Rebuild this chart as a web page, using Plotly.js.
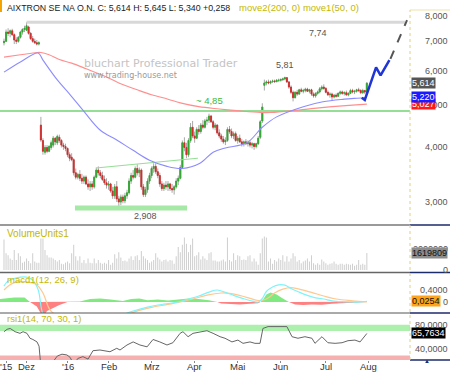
<!DOCTYPE html>
<html><head><meta charset="utf-8">
<script src="https://cdn.plot.ly/plotly-3.0.1.min.js"></script>
<style>html,body{margin:0;padding:0;background:#fff;}#chart{width:450px;height:372px;}</style>
</head><body><div id="chart"></div>
<script>
// ---------- DATA ----------
const tickIdx  = [1, 11, 31, 51, 72, 93, 114, 135, 157, 178];
const tickText = ["'15", "Dez", "'16", "Feb", "Mrz", "Apr", "Mai", "Jun", "Jul", "Aug"];

const opens = [6.95,7.00,7.35,7.30,7.40,7.25,7.05,7.00,7.15,7.35,7.45,7.42,7.55,7.30,7.10,7.00,6.95,6.90,
4.50,4.15,3.90,4.00,3.92,4.00,4.05,4.20,4.10,4.22,4.15,4.05,4.02,3.98,3.85,3.80,3.75,3.50,
3.42,3.47,3.40,3.35,3.42,3.30,3.25,3.30,3.25,3.42,3.55,3.50,3.45,3.38,3.32,3.28,3.30,3.18,3.10,3.25,3.05,3.00,3.08,3.02,
3.10,3.15,3.35,3.45,3.42,3.58,3.50,3.55,3.25,3.12,3.20,3.35,3.45,3.58,3.62,3.52,3.45,3.30,3.22,3.28,
3.25,3.30,3.22,3.20,3.25,3.35,3.40,3.60,4.10,4.00,3.85,4.15,4.45,4.25,4.20,4.40,4.35,4.50,4.45,4.60,
4.62,4.72,4.58,4.45,4.50,4.32,4.25,4.18,4.12,4.15,4.40,4.35,4.25,4.30,4.15,4.20,4.12,4.08,4.12,4.08,
4.10,4.05,4.08,4.02,4.08,4.22,4.60,5.55,5.62,5.65,5.62,5.66,5.68,5.66,5.70,5.70,5.72,5.74,5.78,5.65,
5.50,5.35,5.20,5.35,5.30,5.42,5.38,5.40,5.44,5.38,5.42,5.30,5.25,5.32,5.36,5.45,5.50,5.46,5.35,5.28,
5.30,5.22,5.27,5.24,5.32,5.36,5.32,5.34,5.28,5.32,5.40,5.36,5.38,5.42,5.40,5.34,5.40,5.356];
const highs = [7.10,7.45,7.50,7.45,7.48,7.30,7.15,7.20,7.40,7.50,7.60,7.74,7.60,7.35,7.20,7.10,7.05,7.00,
4.70,4.20,4.05,4.05,4.05,4.15,4.25,4.22,4.28,4.28,4.18,4.10,4.08,4.00,3.90,3.88,3.78,3.58,
3.50,3.55,3.48,3.45,3.45,3.38,3.35,3.35,3.45,3.60,3.62,3.55,3.52,3.45,3.40,3.35,3.32,3.25,3.30,3.35,3.10,3.12,3.12,3.15,
3.20,3.40,3.50,3.55,3.62,3.66,3.60,3.58,3.30,3.25,3.40,3.50,3.62,3.68,3.68,3.58,3.50,3.35,3.32,3.35,
3.35,3.32,3.30,3.28,3.40,3.45,3.65,4.15,4.22,4.10,4.20,4.55,4.60,4.35,4.45,4.50,4.55,4.62,4.65,4.70,
4.78,4.75,4.62,4.55,4.52,4.40,4.30,4.25,4.22,4.45,4.48,4.42,4.35,4.35,4.25,4.28,4.18,4.15,4.18,4.15,
4.15,4.12,4.10,4.10,4.25,4.62,5.05,5.72,5.70,5.72,5.70,5.72,5.72,5.74,5.75,5.76,5.78,5.81,5.80,5.68,
5.55,5.40,5.38,5.42,5.45,5.48,5.45,5.48,5.48,5.45,5.45,5.35,5.35,5.40,5.50,5.55,5.58,5.50,5.40,5.35,
5.34,5.30,5.32,5.35,5.40,5.40,5.38,5.40,5.35,5.45,5.45,5.42,5.45,5.48,5.44,5.45,5.42,5.645];
const lows = [6.85,6.98,7.20,7.15,7.20,6.90,6.90,6.95,7.10,7.25,7.35,7.40,7.25,7.05,6.95,6.90,6.85,6.85,
4.12,3.85,3.85,3.88,3.90,3.95,4.00,4.05,4.05,4.10,4.00,3.95,3.92,3.80,3.72,3.72,3.45,3.38,
3.38,3.35,3.30,3.30,3.28,3.20,3.18,3.20,3.22,3.40,3.45,3.40,3.35,3.28,3.22,3.20,3.15,3.05,3.05,3.00,2.908,2.95,2.98,2.98,
3.05,3.12,3.30,3.38,3.40,3.45,3.42,3.20,3.08,3.08,3.15,3.30,3.40,3.50,3.48,3.40,3.25,3.18,3.18,3.20,
3.18,3.18,3.15,3.12,3.22,3.28,3.38,3.58,3.92,3.78,3.80,4.10,4.20,4.10,4.18,4.28,4.30,4.40,4.42,4.50,
4.55,4.55,4.40,4.38,4.28,4.20,4.12,4.08,4.05,4.12,4.30,4.20,4.18,4.12,4.08,4.10,4.02,4.02,4.05,4.02,
4.00,3.98,3.95,3.98,4.05,4.18,4.55,5.40,5.55,5.58,5.58,5.62,5.62,5.64,5.65,5.66,5.68,5.70,5.62,5.45,
5.30,5.10,5.18,5.25,5.28,5.35,5.32,5.35,5.36,5.32,5.25,5.20,5.20,5.28,5.32,5.40,5.42,5.32,5.25,5.20,
5.12,5.18,5.20,5.22,5.28,5.28,5.26,5.25,5.24,5.30,5.32,5.30,5.34,5.36,5.30,5.30,5.30,5.34];
const closes = [7.00,7.35,7.30,7.40,7.25,7.05,7.00,7.15,7.35,7.45,7.50,7.60,7.30,7.10,7.00,6.95,6.90,6.95,
4.16,3.92,4.00,3.92,4.02,4.10,4.20,4.12,4.24,4.15,4.05,4.02,3.98,3.85,3.78,3.75,3.50,3.42,
3.47,3.40,3.35,3.42,3.30,3.25,3.30,3.25,3.42,3.55,3.50,3.45,3.38,3.32,3.28,3.30,3.18,3.10,3.25,3.05,3.00,3.08,3.02,3.10,
3.15,3.35,3.45,3.42,3.58,3.50,3.55,3.25,3.12,3.20,3.35,3.45,3.58,3.62,3.52,3.45,3.30,3.22,3.28,3.25,
3.30,3.22,3.20,3.25,3.35,3.40,3.60,4.10,4.00,3.85,4.15,4.45,4.25,4.20,4.40,4.35,4.50,4.45,4.60,4.62,
4.72,4.58,4.45,4.50,4.32,4.25,4.18,4.12,4.15,4.40,4.35,4.25,4.30,4.15,4.20,4.12,4.08,4.12,4.08,4.10,
4.05,4.08,4.02,4.08,4.20,4.58,4.95,5.62,5.65,5.62,5.66,5.68,5.66,5.70,5.70,5.72,5.74,5.78,5.65,5.50,
5.35,5.20,5.35,5.30,5.42,5.38,5.40,5.44,5.38,5.42,5.30,5.25,5.32,5.36,5.45,5.50,5.46,5.35,5.28,5.30,
5.22,5.27,5.24,5.32,5.36,5.32,5.34,5.28,5.32,5.40,5.36,5.38,5.42,5.40,5.34,5.40,5.356,5.614];

const volumes = [2900000,1600000,1400000,1100000,950000,1900000,950000,1600000,1300000,700000,800000,1100000,850000,650000,1600000,800000,700000,700000,
3000000,3000000,1900000,1400000,1200000,1200000,1100000,950000,800000,950000,600000,550000,700000,800000,650000,1600000,2400000,1300000,
900000,1300000,700000,950000,650000,1100000,700000,650000,1100000,650000,950000,700000,600000,700000,600000,950000,500000,700000,1500000,1100000,1700000,1200000,850000,900000,
800000,1100000,1300000,950000,1300000,1400000,950000,1800000,1300000,1100000,950000,700000,800000,950000,1600000,1200000,1000000,800000,950000,1000000,
800000,950000,900000,600000,1300000,2200000,1700000,2400000,3100000,2500000,1700000,2400000,3000000,1300000,1400000,1700000,1000000,1300000,1100000,950000,
1600000,1700000,900000,900000,800000,800000,900000,1000000,800000,3100000,950000,800000,1600000,950000,1400000,1300000,950000,1000000,950000,1300000,
1400000,800000,1100000,800000,500000,1600000,3000000,3200000,3100000,800000,1100000,600000,950000,800000,1100000,950000,1400000,800000,1300000,800000,
1100000,1600000,1300000,800000,950000,650000,800000,900000,1100000,800000,1400000,650000,500000,650000,500000,1000000,800000,650000,500000,600000,
650000,800000,600000,500000,600000,600000,500000,600000,550000,500000,600000,400000,500000,950000,500000,600000,500000,1619809];

// moving averages (sampled at candle index)
const ma200X = [0, 8, 16, 18, 22, 27, 33, 40, 50, 56, 65, 72, 80, 86, 95, 105, 115, 125, 130, 140, 150, 160, 170, 177];
const ma200Y = [6.44, 6.52, 6.60, 6.60, 6.52, 6.36, 6.24, 6.06, 5.80, 5.62, 5.42, 5.28, 5.16, 5.06, 4.96, 4.90, 4.85, 4.81, 4.81, 4.85, 4.91, 4.96, 5.00, 5.027];
const ma50X = [0, 8, 16.6, 19, 26, 32, 38.5, 47, 55, 63, 71, 79.5, 87, 95.6, 102, 108, 118.5, 126, 133, 146, 155.6, 166, 175, 177];
const ma50Y = [5.95, 6.28, 6.58, 6.34, 5.71, 5.30, 4.87, 4.38, 4.16, 3.94, 3.74, 3.62, 3.58, 3.68, 3.90, 3.99, 4.10, 4.45, 4.70, 4.96, 5.09, 5.16, 5.20, 5.22];

// MACD (12,26,9)
const macdX = [0, 1.5, 4.4, 8, 11, 14, 16.7, 18.4, 20, 25, 35, 45, 55, 60, 63, 70, 78, 85, 90, 95, 100, 104, 108, 112, 116, 120, 124, 126, 128, 131, 134, 137, 140, 144, 148, 152, 156, 160, 165, 170, 174, 177];
const macdY = [0.53, 0.67, 0.77, 0.83, 0.83, 0.73, 0.40, -0.27, -0.55, -0.75, -0.80, -0.70, -0.50, -0.37, -0.30, -0.17, -0.07, 0.0, 0.10, 0.20, 0.33, 0.40, 0.32, 0.22, 0.13, 0.05, 0.0, 0.12, 0.35, 0.50, 0.57, 0.56, 0.45, 0.33, 0.22, 0.14, 0.10, 0.04, 0.01, 0.0, 0.0, 0.0254];
const signalX = [0, 4.4, 11, 16, 19, 22.5, 26, 35, 45, 55, 62, 66, 72, 80, 86, 92, 99, 106, 110, 116, 120, 124, 128, 132, 136, 140, 144, 150, 156, 162, 170, 177];
const signalY = [0.40, 0.63, 0.67, 0.57, 0.30, -0.27, -0.45, -0.65, -0.60, -0.48, -0.37, -0.28, -0.18, -0.08, 0.0, 0.10, 0.23, 0.30, 0.29, 0.20, 0.12, 0.05, 0.10, 0.30, 0.43, 0.48, 0.43, 0.32, 0.20, 0.10, 0.04, 0.0];
const histX = [-2, 0, 5, 10, 12.7, 16, 18, 19, 21, 24, 27, 31, 37, 42, 47, 52, 58, 62, 66, 70, 75, 80, 85, 90, 95, 100, 104, 106, 110, 115, 120, 124, 125, 126, 128, 130, 133, 136, 139, 142, 146, 150, 155, 160, 165, 170, 173, 175, 177];
const histY = [0.10, 0.12, 0.15, 0.15, 0.0, -0.15, -0.45, -0.50, -0.30, -0.20, -0.10, 0.0, 0.02, 0.10, 0.12, 0.08, 0.03, 0.10, 0.12, 0.06, 0.08, 0.05, 0.09, 0.12, 0.10, 0.06, 0.0, -0.05, -0.06, -0.08, -0.06, -0.04, 0.0, 0.05, 0.25, 0.32, 0.25, 0.12, 0.0, -0.08, -0.10, -0.08, -0.09, -0.06, -0.04, -0.02, 0.0, 0.02, 0.03];

// RSI (14)
const rsiX = [0, 1.5, 3, 5.4, 7.8, 9.3, 11.2, 12.7, 14.1, 16.1, 17.1, 18, 20, 22, 24, 26, 28.3, 30.7, 32.2, 33, 34.6, 36, 38.5, 41, 43.4, 46.8, 51.7, 55, 56.6, 60, 63, 66.3, 69.8, 72.7, 76, 79.5, 82.4, 85.9, 87.3, 89.8, 92.2, 95.6, 99, 102, 105.4, 107.8, 111.2, 114.1, 116.6, 120, 122.4, 124.9, 126.3, 128.8, 133.7, 138, 140.5, 143.4, 146.8, 150.2, 151.7, 155.1, 158, 161.5, 164.9, 167.8, 171.2, 173.7, 177];
const rsiY = [68.7, 72.6, 74, 68.7, 66, 68.7, 66, 58, 56, 52, 45, 12, 10, 14, 20, 29, 32, 30.7, 27, 22, 18, 25, 28, 24, 37.7, 38.8, 36, 41.6, 38.8, 47, 52, 47, 44, 56, 52, 47, 50.7, 66, 68.7, 60.5, 66, 68.7, 70.3, 66, 60.5, 58, 52, 55, 49.7, 52, 49.7, 49.7, 74, 77, 77, 77, 60.5, 58, 60.5, 58, 49.7, 60.5, 50.7, 49.7, 50.7, 54, 55, 52, 65.7634];

// chart drawings
const resistLevel = 7.74, resistFrom = 11, resistTo = 195.6;
const lineLevel = 4.85;
const bottomLevel = 2.908, bottomFrom = 34.6, bottomTo = 89.3;
const necklineX = [45, 94.6], necklineY = [3.59, 3.78];
const peakLevel = 5.81, peakIdx = 137;
const projX = [174.5, 176, 181.5, 183.7, 188], projY = [5.20, 5.14, 6.10, 5.85, 6.34];
const projDashX = [188.5, 196.6], projDashY = [6.38, 7.83];

const mainTicks = [3, 4, 5, 6, 7, 8];
const volTicks = [0, 2000000];
const macdTicks = [0, 0.4];
const rsiTicks = [40, 80];

// ---------- BUILD ----------
const N = closes.length, last = N - 1;
const xs = closes.map((_, i) => i);
const fmt = (v, d) => v.toFixed(d).replace('.', ',');
const PW = 410, PH = 350;
const px = x => x / PW;
const py = y => (360 - y) / PH;
const FONT = 'Liberation Sans, Arial, sans-serif';
const OLIVE = '#c4b800';
const NAVY = '#1c2b6b';
const GREEN = '#2fa82f', RED = '#d42a2a';

const bodyHi = opens.map((o, i) => Math.max(o, closes[i]));
const bodyLo = opens.map((o, i) => Math.min(o, closes[i]));

const traces = [
  {type: 'scatter', mode: 'lines', x: [-2, 198], y: [lineLevel, lineLevel], line: {color: '#95de95', width: 2}, hoverinfo: 'skip'},
  {type: 'scatter', mode: 'lines', x: [resistFrom, resistTo], y: [resistLevel, resistLevel], line: {color: '#d8d8d8', width: 3}, hoverinfo: 'skip'},
  {type: 'scatter', mode: 'lines', x: [bottomFrom, bottomTo], y: [bottomLevel, bottomLevel], line: {color: '#a6e8a6', width: 5}, hoverinfo: 'skip'},
  {type: 'scatter', mode: 'lines', x: necklineX, y: necklineY, line: {color: '#95de95', width: 1}, hoverinfo: 'skip'},
  {type: 'scatter', mode: 'lines', x: ma200X, y: ma200Y, line: {color: '#ff8f8f', width: 1.1, shape: 'spline'}, hoverinfo: 'skip'},
  {type: 'scatter', mode: 'lines', x: ma50X, y: ma50Y, line: {color: '#8c8cff', width: 1.1, shape: 'spline'}, hoverinfo: 'skip'},
  {type: 'candlestick', x: xs, open: opens, high: highs, low: lows, close: closes,
   increasing: {line: {color: '#a8a8a8', width: 1}, fillcolor: '#a8a8a8'},
   decreasing: {line: {color: '#a8a8a8', width: 1}, fillcolor: '#a8a8a8'}, hoverinfo: 'skip'},
  {type: 'candlestick', x: xs, open: opens, high: bodyHi, low: bodyLo, close: closes,
   increasing: {line: {color: GREEN, width: 0.8}, fillcolor: GREEN},
   decreasing: {line: {color: RED, width: 0.8}, fillcolor: RED}, hoverinfo: 'skip'},
  {type: 'scatter', mode: 'lines', x: projX, y: projY, line: {color: '#1f35d6', width: 2.5}, hoverinfo: 'skip'},
  {type: 'scatter', mode: 'lines', x: projDashX, y: projDashY, line: {color: '#555', width: 2, dash: 'dash'}, hoverinfo: 'skip'},
  // volume
  {type: 'bar', x: xs, y: volumes, yaxis: 'y2', width: 0.5, marker: {color: '#cfcfcf', line: {width: 0}}, hoverinfo: 'skip'},
  // macd
  {type: 'scatter', mode: 'lines', x: histX, y: histY.map(v => Math.max(0, v)), yaxis: 'y3', fill: 'tozeroy', fillcolor: '#80ea80', line: {width: 0, color: 'rgba(0,0,0,0)'}, hoverinfo: 'skip'},
  {type: 'scatter', mode: 'lines', x: histX, y: histY.map(v => Math.min(0, v)), yaxis: 'y3', fill: 'tozeroy', fillcolor: '#ff8080', line: {width: 0, color: 'rgba(0,0,0,0)'}, hoverinfo: 'skip'},
  {type: 'scatter', mode: 'lines', x: signalX, y: signalY, yaxis: 'y3', line: {color: '#ffc88e', width: 1.2, shape: 'spline'}, hoverinfo: 'skip'},
  {type: 'scatter', mode: 'lines', x: macdX, y: macdY, yaxis: 'y3', line: {color: '#7ef4fa', width: 1.2, shape: 'spline'}, hoverinfo: 'skip'},
  // rsi
  {type: 'scatter', mode: 'lines', x: rsiX, y: rsiY, yaxis: 'y4', line: {color: '#666', width: 1}, hoverinfo: 'skip'}
];

const ann = [];
function A(o) { ann.push(Object.assign({showarrow: false, font: {family: FONT, size: 9, color: '#555'}}, o)); }
// header
A({xref: 'paper', yref: 'paper', x: px(5), y: py(8), xanchor: 'left', yanchor: 'middle',
   text: `AIXTRON SE NA O.N. C: ${fmt(closes[last],3)} H: ${fmt(highs[last],3)} L: ${fmt(lows[last],3)} +${fmt(closes[last]-closes[last-1],3)}`,
   font: {family: FONT, size: 8.8, color: '#222'}});
A({xref: 'paper', yref: 'paper', x: px(237), y: py(8), xanchor: 'left', yanchor: 'middle',
   text: 'move2(200, 0) move1(50, 0)', font: {family: FONT, size: 9.5, color: OLIVE}});
// watermark
A({xref: 'paper', yref: 'paper', x: px(82), y: py(63), xanchor: 'left', yanchor: 'middle',
   text: 'bluchart Professional Trader', font: {family: 'DejaVu Sans, sans-serif', size: 11, color: '#c4c4c4'}});
A({xref: 'paper', yref: 'paper', x: px(82), y: py(75), xanchor: 'left', yanchor: 'middle',
   text: 'www.trading-house.net', font: {family: 'DejaVu Sans, sans-serif', size: 8, color: '#9a9a9a'}});
// chart labels
A({x: 153, y: Math.log10(resistLevel), yshift: -11, text: fmt(resistLevel, 2)});
A({x: peakIdx, y: Math.log10(peakLevel), yshift: 12, text: fmt(peakLevel, 2)});
A({x: 100, y: Math.log10(lineLevel), yshift: 10, text: '~ ' + fmt(lineLevel, 2), font: {family: FONT, size: 9.5, color: '#3cb93c'}});
A({x: 69, y: Math.log10(bottomLevel), yshift: -8, text: fmt(bottomLevel, 3)});
// panel labels
A({xref: 'paper', yref: 'paper', x: px(5), y: py(233), xanchor: 'left', yanchor: 'middle', text: 'VolumeUnits1', font: {family: FONT, size: 10, color: OLIVE}});
A({xref: 'paper', yref: 'paper', x: px(5), y: py(279), xanchor: 'left', yanchor: 'middle', text: 'macd1(12, 26, 9)', font: {family: FONT, size: 9.5, color: OLIVE}});
A({xref: 'paper', yref: 'paper', x: px(5), y: py(318), xanchor: 'left', yanchor: 'middle', text: 'rsi1(14, 70, 30, 1)', font: {family: FONT, size: 9.5, color: OLIVE}});
// x-axis month labels
tickIdx.forEach((v, i) => A({xref: 'x', yref: 'paper', x: v, y: py(366.5), yanchor: 'middle', text: tickText[i],
  font: {family: FONT, size: 9.5, color: '#333'}}));
// right axis labels
const RX = px(449.5), LX = px(410.5);
mainTicks.forEach(v => A({xref: 'paper', yref: 'y', x: RX, xanchor: 'right', y: Math.log10(v), text: fmt(v, 3)}));
volTicks.forEach(v => A({xref: 'paper', yref: 'y2', x: RX, xanchor: 'right', y: v, text: String(v)}));
macdTicks.forEach(v => A({xref: 'paper', yref: 'y3', x: RX, xanchor: 'right', y: v, text: v === 0 ? '0' : fmt(v, 4)}));
rsiTicks.forEach(v => A({xref: 'paper', yref: 'y4', x: RX, xanchor: 'right', y: v, text: fmt(v, 4)}));
function tag(yref, y, text, bg, color) {
  A({xref: 'paper', yref: yref, x: LX, xanchor: 'left', y: y, text: text, bgcolor: bg, borderpad: 0,
     font: {family: FONT, size: 9, color: color}});
}
tag('y', Math.log10(ma200Y[ma200Y.length-1]), fmt(ma200Y[ma200Y.length-1], 3), '#ff1a1a', '#fff');
tag('y', Math.log10(ma50Y[ma50Y.length-1]), fmt(ma50Y[ma50Y.length-1], 3), '#1a1aff', '#fff');
tag('y', Math.log10(closes[last]), fmt(closes[last], 3), '#555', '#fff');
tag('y2', volumes[last], String(volumes[last]), '#8c8c8c', '#111');
tag('y3', macdY[macdY.length-1], fmt(macdY[macdY.length-1], 4), '#ffa31a', '#111');
tag('y4', rsiY[rsiY.length-1], fmt(rsiY[rsiY.length-1], 4), '#000', '#fff');
A({xref: 'paper', yref: 'paper', x: px(432), y: py(366), text: '▲', font: {family: FONT, size: 6, color: NAVY}});

const shapes = [];
function hl(x0, x1, y, color, w) { shapes.push({type: 'line', xref: 'paper', yref: 'paper', x0: px(x0), x1: px(x1), y0: py(y), y1: py(y), line: {color: color, width: w}}); }
shapes.push({type: 'rect', xref: 'paper', yref: 'paper', x0: px(0), x1: px(2), y0: py(12), y1: py(0), fillcolor: '#f5a300', line: {width: 0}});
shapes.push({type: 'rect', xref: 'paper', yref: 'y4', x0: 0, x1: 1, y0: 70, y1: 80, fillcolor: '#adf0ad', line: {width: 0}, layer: 'below'});
shapes.push({type: 'rect', xref: 'paper', yref: 'y4', x0: 0, x1: 1, y0: 15, y1: 30, fillcolor: '#f7b0b0', line: {width: 0}, layer: 'below'});
hl(0, 410, 225, '#9a9a9a', 2);
hl(0, 410, 272.5, '#666', 1.5);
hl(0, 410, 313, '#555', 1);
[225, 272.5, 313, 360].forEach(y => hl(410, 450, y, NAVY, 1.5));
hl(410, 450, 10, '#efe3a8', 1);
shapes.push({type: 'line', xref: 'paper', yref: 'paper', x0: 1, x1: 1, y0: py(360), y1: py(10), line: {color: '#e2cf80', width: 1, dash: 'dot'}});

const yHidden = {visible: false, fixedrange: true};
const layout = {
  width: 450, height: 372,
  margin: {l: 0, r: 40, t: 10, b: 12, pad: 0},
  paper_bgcolor: '#fff', plot_bgcolor: '#fff',
  showlegend: false, hovermode: false,
  font: {family: FONT, size: 9, color: '#555'},
  xaxis: {range: [-1.951, 198.05], anchor: 'y4', showgrid: false, zeroline: false, showline: false,
          tickmode: 'array', tickvals: tickIdx, ticktext: tickText, showticklabels: false,
          ticks: 'outside', ticklen: 2, tickcolor: '#888',
          rangeslider: {visible: false}, fixedrange: true},
  yaxis: Object.assign({domain: [py(222), 1], type: 'log', range: [0.43137, 0.91683]}, yHidden),
  yaxis2: Object.assign({domain: [py(272), py(226)], range: [-190000, 4190000]}, yHidden),
  yaxis3: Object.assign({domain: [py(313), py(273)], range: [-0.367, 0.967]}, yHidden),
  yaxis4: Object.assign({domain: [0, py(313)], range: [22.5, 99.2]}, yHidden),
  annotations: ann, shapes: shapes
};
Plotly.newPlot('chart', traces, layout, {staticPlot: true, displayModeBar: false});
</script></body></html>
